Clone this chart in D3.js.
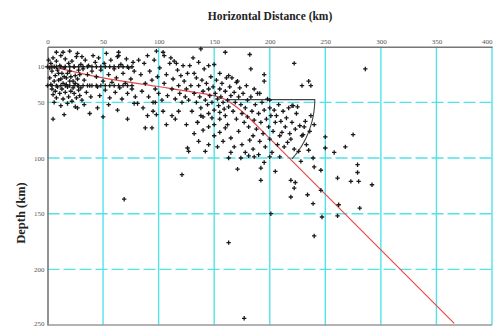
<!DOCTYPE html>
<html>
<head>
<meta charset="utf-8">
<script src="https://cdn.jsdelivr.net/npm/d3@7"></script>
<style>
  html, body { margin: 0; padding: 0; background: #fff; }
  svg { display: block; }
</style>
</head>
<body>
<svg id="chart" width="495" height="327"></svg>
<script>
// Hypocentres: [horizontal distance (km), depth (km)]
const hypocentres = [
  [1,12],[2,19],[3,15],[4,22],[5,10],[6,18],[7,26],[8,13],[9,21],[10,30],[11,17],[12,8],[13,24],[14,33],[15,19],[16,11],[17,28],[18,36],[19,15],[20,22],[21,40],[22,13],[23,31],[24,18],[25,26],[26,9],[27,35],[28,21],[29,44],[30,16],
  [2,28],[3,34],[4,38],[5,43],[6,31],[7,40],[8,46],[9,36],[10,24],[11,42],[12,29],[13,38],[14,47],[15,27],[16,41],[17,34],[18,24],[19,45],[20,31],[21,27],[22,49],[23,37],[24,42],[25,33],[26,46],[27,29],[28,39],[29,25],[30,37],[31,48],
  [32,20],[33,30],[34,12],[35,41],[36,25],[37,17],[38,35],[39,45],[40,22],[31,9],[33,52],[18,51],[12,53],[6,50],[25,54],[8,5],[14,5],[20,4],[27,6],
  [41,8],[43,14],[44,27],[45,36],[46,10],[47,44],[48,21],[50,31],[51,15],[52,39],[53,6],[55,25],[56,46],[57,12],[58,32],[60,20],[61,41],[62,28],[63,9],[64,5],[64,8],[65,37],[66,16],[67,47],[68,24],[70,33],[71,11],[72,42],[73,19],[75,29],[76,38],[77,14],[78,22],[79,45],
  [50,63],[63,57],[72,65],[55,52],[45,55],[38,60],[27,55],[15,61],[5,65],
  [82,12],[84,25],[85,40],[87,15],[88,33],[90,8],[91,45],[92,22],[94,30],[95,50],[96,12],[97,38],[98,4],[99,27],[100,42],[101,19],[103,48],[104,5],[105,8],[105,33],[107,25],[108,44],[110,15],[111,10],[112,38],[113,29],[114,13],[115,47],[116,15],[117,21],[118,35],[119,42],[120,26],[121,50],[122,17],[123,31],[124,45],[125,38],[126,24],[127,48],[128,17],[129,35],
  [78,51],[81,51],[88,73],[94,73],[95,58],[97,50],[98,61],[107,70],[112,62],[121,115],[69,137],[86,55],[90,62],[104,58],[118,58],[115,65],
  [131,10],[132,24],[132,42],[134,28],[134,50],[136,14],[136,35],[137,45],[138,2],[138,55],[139,30],[140,40],[141,20],[142,48],[143,33],[144,52],[145,17],[145,38],[146,44],[147,27],[148,50],[149,36],[150,57],[150,16],[151,42],[152,30],[153,47],[154,53],[155,24],[155,38],[156,45],[157,33],[158,50],[159,56],[160,5],[160,40],[161,28],[162,48],[163,26],[163,54],[164,36],[165,44],[166,28],[167,58],[168,41],[169,50],[170,32],[160,62],[155,65],[145,60],[140,63],[135,68],[130,58],[150,70],
  [171,31],[172,45],[173,37],[174,52],[175,60],[176,42],[177,68],[178,55],[179,35],[180,48],[180,63],[181,72],[182,7],[183,20],[183,45],[184,58],[185,80],[186,38],[186,66],[187,52],[188,74],[189,42],[190,60],[191,85],[191,42],[192,68],[193,50],[194,78],[195,25],[195,31],[195,57],[196,90],[197,65],[198,47],[199,72],[200,83],[200,55],[201,62],[202,95],[203,76],[204,57],[205,68],[206,62],[207,88],[208,52],[209,80],[210,67],[211,77],[212,58],[213,90],[214,72],[215,64],[216,86],[217,55],[218,78],[219,83],[220,68],[221,53],[222,92],[223,74],[224,60],[225,54],[226,94],[227,71],[228,103],[229,80],[230,79],[231,72],[232,67],[233,88],[235,93],[236,76],[237,62],[239,100],[240,70],
  [229,35],[235,31],[237,35],[222,15],[286,20],[200,48],[220,53],
  [186,99],[181,98],[200,99],[209,99],[192,109],[192,120],[205,112],[219,120],[223,122],[222,127],[234,133],[219,135],[239,141],[262,142],[246,129],[240,108],[246,111],[261,118],[273,121],[279,113],[279,106],[280,121],[292,124],[281,145],[275,79],[250,81],[268,90],[250,91],[258,95],[163,100],[174,100],[171,110],[153,90],[136,85],[142,94],[126,91],[127,94],[125,70],[201,150],[247,153],[240,170],[261,152],[163,176],[177,244],
  [135,68],[140,75],[145,72],[150,80],[155,77],[158,85],[162,70],[165,82],[168,90],[172,76],[175,88],[178,95],[182,84],[145,88],[132,78],[138,62],[148,64],[155,59],[160,73],[170,65],[165,95],[185,92],[190,97],[195,104]
];

// Catalogue events held at fixed depths
const fixedDepthX = [0,4,8,12,16,20,24,28,32,36,40,44,48,52,56,60,64,68,72,76];
const fixedDepths = [18, 35];

// Slab-top profile [distance, depth]
const slabProfile = [[0,17],[50,28],[98,35.5],[130,40.5],[150,44],[160,47.5],[168,52.5],[176,59],[184,66.5],[192,74.5],[366,248.5]];

// Dip-angle wedge
const wedgeCentre = [161, 47.5];
const wedgeRadius = 79.5;
const wedgeDip = 42.6;

const xTicks = [0,50,100,150,200,250,300,350,400];
const yTickValues = [18,50,100,150,200,250];
const yTickLabels = ["10","50","100","150","200","250"];
const xGrid = [50,100,150,200,250,300,350,400];
const yGrid = [50,100,150,200];

const svg = d3.select("#chart");
const plotLeft = 47.5, plotTop = 46.7, plotRight = 492, plotBottom = 325;

const x = d3.scaleLinear().domain([0, 400]).range([plotLeft, plotRight]);
const y = d3.scaleLinear().domain([0, 250]).range([plotTop, plotBottom]);

// grid
svg.append("g").selectAll("line").data(xGrid).join("line")
  .attr("x1", d => x(d)).attr("x2", d => x(d))
  .attr("y1", plotTop).attr("y2", plotBottom)
  .attr("stroke", "#52e2e8").attr("stroke-width", 1.4);
svg.append("g").selectAll("line").data(yGrid).join("line")
  .attr("x1", plotLeft).attr("x2", plotRight)
  .attr("y1", d => y(d)).attr("y2", d => y(d))
  .attr("stroke", "#52e2e8").attr("stroke-width", 1.4)
  .attr("stroke-dasharray", "12,4");

// axes
const xAxis = d3.axisTop(x).tickValues(xTicks).tickSize(0).tickPadding(3);
const gx = svg.append("g").attr("transform", `translate(0,${plotTop})`).call(xAxis);
gx.select(".domain").attr("stroke", "#777").attr("stroke-width", 1.6);
gx.selectAll("text").attr("font-family", "Liberation Serif, serif").attr("font-size", 7).attr("fill", "#555")
  .attr("text-anchor", d => d === 400 ? "end" : "middle");

const yAxis = d3.axisLeft(y).tickValues(yTickValues).tickFormat((d, i) => yTickLabels[i]).tickSize(0).tickPadding(3);
const gy = svg.append("g").attr("transform", `translate(${plotLeft},0)`).call(yAxis);
gy.select(".domain").attr("stroke", "#777").attr("stroke-width", 1.6);
gy.selectAll("text").attr("font-family", "Liberation Serif, serif").attr("font-size", 7).attr("fill", "#555")
  .attr("dy", d => d === 250 ? "0" : "0.32em");

svg.append("line").attr("x1", plotLeft).attr("x2", plotRight).attr("y1", plotBottom).attr("y2", plotBottom)
  .attr("stroke", "#999").attr("stroke-width", 1.6);

// titles
svg.append("text").attr("x", 270).attr("y", 20).attr("text-anchor", "middle")
  .attr("font-family", "Liberation Serif, serif").attr("font-weight", "bold").attr("font-size", 11.5)
  .attr("fill", "#222").text("Horizontal Distance (km)");
svg.append("text").attr("transform", "translate(25,213) rotate(-90)").attr("text-anchor", "middle")
  .attr("font-family", "Liberation Serif, serif").attr("font-weight", "bold").attr("font-size", 12.5)
  .attr("fill", "#222").text("Depth (km)");

// slab profile
const line = d3.line().x(d => x(d[0])).y(d => y(d[1])).curve(d3.curveMonotoneX);
svg.append("path").datum(slabProfile).attr("d", line)
  .attr("fill", "none").attr("stroke", "#e8484c").attr("stroke-width", 1.2);

// wedge: horizontal arm + arc down to the dip direction
const arcPts = d3.range(0, wedgeDip + 0.01, 1).map(a => {
  const r = a * Math.PI / 180;
  return [wedgeCentre[0] + wedgeRadius * Math.cos(r), wedgeCentre[1] + wedgeRadius * Math.sin(r)];
});
svg.append("path").datum([wedgeCentre, ...arcPts])
  .attr("d", d3.line().x(d => x(d[0])).y(d => y(d[1])))
  .attr("fill", "none").attr("stroke", "#444").attr("stroke-width", 1.1);

// hypocentre markers
const fixedEvents = fixedDepths.flatMap(dp => fixedDepthX.map(dx => [dx, dp]));
const allEvents = hypocentres.concat(fixedEvents);
const s = 2.2;
svg.append("g").selectAll("path").data(allEvents).join("path")
  .attr("d", d => `M${x(d[0]) - s},${y(d[1])}H${x(d[0]) + s}M${x(d[0])},${y(d[1]) - s}V${y(d[1]) + s}`)
  .attr("stroke", "#1a1a1a").attr("stroke-width", 1.3).attr("fill", "none");
</script>
</body>
</html>
